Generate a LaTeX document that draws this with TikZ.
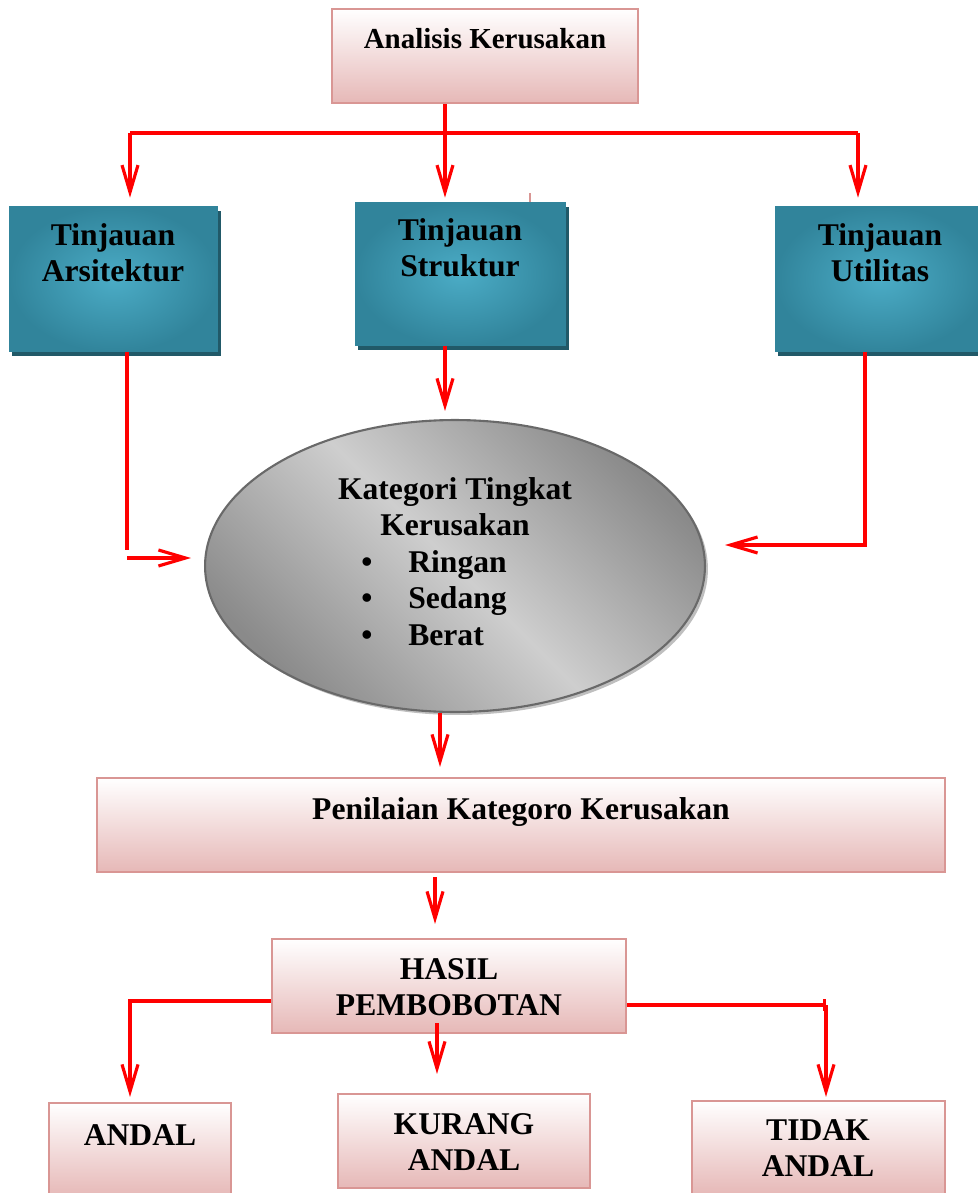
\documentclass[tikz,border=0pt]{standalone}
\usepackage{fontspec}
\setmainfont{Liberation Serif}
\usetikzlibrary{arrows.meta,shapes.geometric,shadows}

\definecolor{pinkfill}{RGB}{230,184,183}
\definecolor{pinkline}{RGB}{217,150,148}
\definecolor{tealout}{RGB}{49,132,155}
\definecolor{tealin}{RGB}{75,172,198}
\definecolor{tealshadow}{RGB}{33,89,104}
\definecolor{ellin}{RGB}{206,206,206}
\definecolor{ellout}{RGB}{138,138,138}
\definecolor{ellline}{RGB}{105,105,105}

\begin{document}
\begin{tikzpicture}[x=0.02cm,y=-0.02cm,>={Straight Barb[length=0.54cm,width=0.32cm]}]
		\tikzstyle{pinkbox} = [rectangle,draw=pinkline,line width=1.2pt,top color=white,bottom color=pinkfill,minimum height=1.88cm];
		\tikzstyle{tealbox} = [rectangle,inner color=tealin,outer color=tealout,drop shadow={shadow xshift=0.06cm,shadow yshift=-0.09cm,fill=tealshadow,opacity=1}];
		\tikzstyle{boxtext} = [align=center,font=\bfseries\fontsize{18}{20.5}\selectfont,inner sep=0pt];
		\tikzstyle{rline} = [draw=red,line width=1.8pt];
		\useasboundingbox (0,0) rectangle (977,1193);
		% top box
		\node[pinkbox,minimum width=6.12cm] (analisis) at (485,56) {};
		\node[boxtext,font=\bfseries\fontsize{16.5}{19}\selectfont] (analisis-txt) at (485,39) {Analisis Kerusakan};
		\draw[pinkline,line width=1.2pt] (530,193) -- (530,202);
		% tinjauan
		\node[tealbox,minimum width=4.18cm,minimum height=2.92cm] (arsitektur) at (113.5,279) {};
		\node[boxtext] (arsitektur-txt) at (113,253) {Tinjauan\\Arsitektur};
		\node[tealbox,minimum width=4.22cm,minimum height=2.88cm] (struktur) at (460.5,274) {};
		\node[boxtext] (struktur-txt) at (460,248) {Tinjauan\\Struktur};
		\node[tealbox,minimum width=4.2cm,minimum height=2.92cm] (utilitas) at (880,279) {};
		\node[boxtext] (utilitas-txt) at (880,253) {Tinjauan\\Utilitas};
		% kategori
		\node[ellipse,draw=ellline,line width=1.2pt,top color=ellout,bottom color=ellout,middle color=ellin,shading angle=135,minimum width=10cm,minimum height=5.84cm,drop shadow={shadow xshift=0.06cm,shadow yshift=-0.06cm,fill=gray,opacity=0.5}] (kategori) at (455,566) {};
		\node[boxtext] (kategori-txt) at (455,507) {Kategori Tingkat\\Kerusakan};
		\node[boxtext,align=left,anchor=west,font=\bfseries\fontsize{18}{20.8}\selectfont] (tingkat-list) at (361,598) {\makebox[0.94cm][l]{\textbullet}Ringan\\\makebox[0.94cm][l]{\textbullet}Sedang\\\makebox[0.94cm][l]{\textbullet}Berat};
		% penilaian and hasil
		\node[pinkbox,minimum width=16.96cm] (penilaian) at (521,825) {};
		\node[boxtext] (penilaian-txt) at (521,812) {Penilaian Kategoro Kerusakan};
		\node[pinkbox,minimum width=7.08cm] (hasil) at (449,986) {};
		\node[boxtext] (hasil-txt) at (449,987) {HASIL\\PEMBOBOTAN};
		% bottom row
		\node[pinkbox,minimum width=3.64cm] (andal) at (140,1150) {};
		\node[boxtext] (andal-txt) at (140,1135) {ANDAL};
		\node[pinkbox,minimum width=5.04cm] (kurang) at (464,1141) {};
		\node[boxtext] (kurang-txt) at (464,1142) {KURANG\\ANDAL};
		\node[pinkbox,minimum width=5.06cm] (tidak) at (818.5,1148) {};
		\node[boxtext] (tidak-txt) at (818,1148) {TIDAK\\ANDAL};
		% connectors
		\coordinate (split-l) at (130,133);
		\coordinate (split-m) at (445,133);
		\coordinate (split-r) at (858,133);
		\draw[rline] (split-l) -- (split-r);
		\draw[rline,->,shorten >=0.08cm] (analisis.south -| split-m) -- (struktur.north -| split-m);
		\draw[rline,->,shorten >=0.16cm] (split-l) -- (arsitektur.north -| split-l);
		\draw[rline,->,shorten >=0.16cm] (split-r) -- (utilitas.north -| split-r);
		\draw[rline,->,shorten >=0.16cm] (struktur.south -| split-m) -- (kategori.north -| split-m);
		\coordinate (ars-end) at (127,550);
		\coordinate (ars-turn) at (127,558);
		\draw[rline] (arsitektur.south -| ars-end) -- (ars-end);
		\draw[rline,->,shorten >=0.26cm] (ars-turn) -- (kategori.west |- ars-turn);
		\coordinate (util-turn) at (865,545);
		\draw[rline,->,shorten >=0.38cm] (utilitas.south -| util-turn) -- (util-turn) -- (kategori.east |- util-turn);
		\coordinate (kat-out) at ([xshift=-0.3cm]kategori.south);
		\draw[rline,->,shorten >=0.2cm] (kat-out) -- (kat-out |- penilaian.north);
		\coordinate (pen-out) at ([xshift=-1.72cm]penilaian.south);
		\draw[rline,->,shorten <=0.08cm,shorten >=0.28cm] (pen-out) -- (pen-out |- hasil.north);
		\coordinate (has-out) at ([xshift=-0.24cm,yshift=0.22cm]hasil.south);
		\draw[rline,->,shorten >=0.38cm] (has-out) -- (has-out |- kurang.north);
		\coordinate (andal-turn) at (130,1001);
		\draw[rline,->,shorten >=0.1cm] (hasil.west |- andal-turn) -- (andal-turn) -- (andal.north -| andal-turn);
		\coordinate (tidak-turn) at (826,1005);
		\draw[rline,-{Bar[width=0.24cm]}] (hasil.east |- tidak-turn) -- (tidak-turn);
		\draw[rline,->,shorten >=0.06cm] (tidak-turn) -- (tidak.north -| tidak-turn);
	\end{tikzpicture}
\end{document}
